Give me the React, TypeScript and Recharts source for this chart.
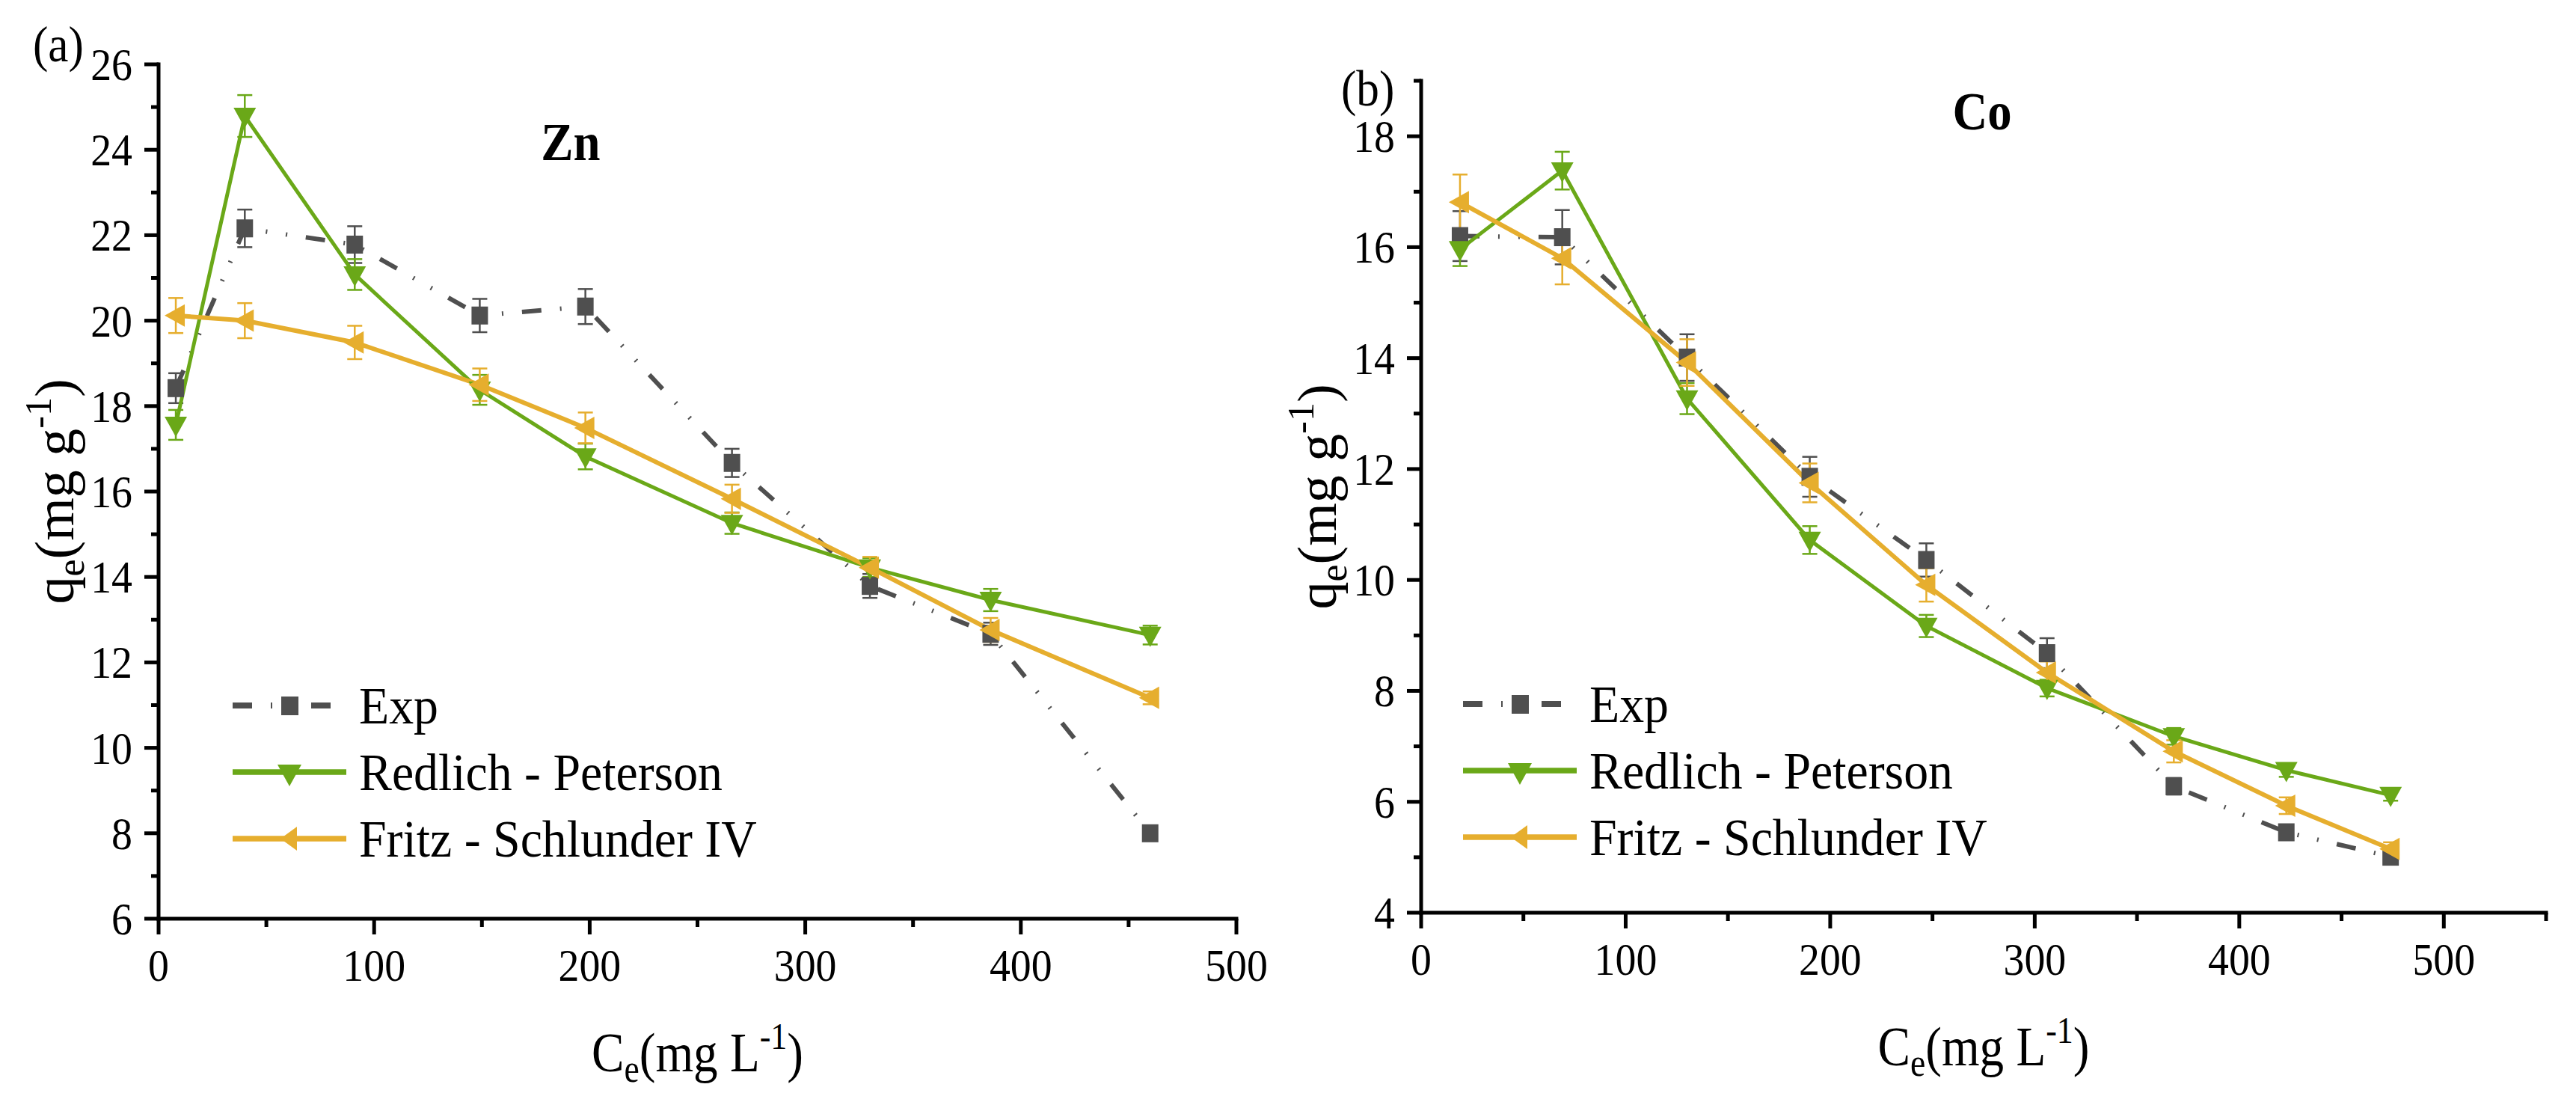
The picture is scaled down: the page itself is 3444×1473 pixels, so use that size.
import React from 'react';
import { LineChart, Line, XAxis, YAxis, ErrorBar, Legend } from 'recharts';

// ---- data ----
const znX = [8, 40, 91, 149, 198, 266, 330, 386, 460];
const znExp = [18.42, 22.16, 21.78, 20.12, 20.33, 16.67, 13.79, 12.67, 8.0];
const znExpErr = [0.35, 0.44, 0.43, 0.39, 0.41, 0.33, 0.28, 0.26, 0.1];
const znRP = [17.56, 24.79, 21.08, 18.38, 16.82, 15.26, 14.22, 13.46, 12.64];
const znRPErr = [0.35, 0.49, 0.36, 0.35, 0.3, 0.25, 0.22, 0.26, 0.22];
const znFS = [20.12, 20.0, 19.49, 18.5, 17.49, 15.83, 14.22, 12.76, 11.17];
const znFSErr = [0.41, 0.41, 0.39, 0.38, 0.36, 0.33, 0.25, 0.28, 0.15];

const coX = [19, 69, 130, 190, 247, 306, 368, 423, 474];
const coExp = [16.2, 16.18, 14.01, 11.86, 10.36, 8.68, 6.28, 5.45, 5.01];
const coExpErr = [0.45, 0.49, 0.42, 0.36, 0.3, 0.27, 0.15, 0.1, 0.1];
const coRP = [15.96, 17.38, 13.27, 10.72, 9.17, 8.05, 7.18, 6.57, 6.12];
const coRPErr = [0.3, 0.34, 0.28, 0.25, 0.2, 0.15, 0.15, 0.12, 0.1];
const coFS = [16.81, 15.8, 13.92, 11.75, 9.91, 8.33, 6.91, 5.93, 5.15];
const coFSErr = [0.5, 0.47, 0.42, 0.35, 0.3, 0.2, 0.2, 0.15, 0.12];

const znYTicks = [6, 7, 8, 9, 10, 11, 12, 13, 14, 15, 16, 17, 18, 19, 20, 21, 22, 23, 24, 25, 26];
const coYTicks = [4, 5, 6, 7, 8, 9, 10, 11, 12, 13, 14, 15, 16, 17, 18, 19];
const znXTicks = [0, 50, 100, 150, 200, 250, 300, 350, 400, 450, 500];
const coXTicks = [0, 50, 100, 150, 200, 250, 300, 350, 400, 450, 500, 550];

const seriesNames = ['Exp', 'Redlich - Peterson', 'Fritz - Schlunder IV'];

const GRAY = '#4f4f4f';
const GREEN = '#6aa818';
const ORANGE = '#e6ae2e';
const FONT = "'Liberation Serif', 'Times New Roman', serif";
const W = 1722;
const H = 1473;

const build = (xs: number[], e: number[], ee: number[], r: number[], re: number[], f: number[], fe: number[]) =>
  xs.map((x, i) => ({ x, exp: e[i], expErr: ee[i], rp: r[i], rpErr: re[i], fs: f[i], fsErr: fe[i] }));

const znData = build(znX, znExp, znExpErr, znRP, znRPErr, znFS, znFSErr);
const coData = build(coX, coExp, coExpErr, coRP, coRPErr, coFS, coFSErr);

// horizontally squeezed text like the original export
const SText = ({ x, y, size, sx = 0.9, anchor = 'start', weight = 'normal', children }: any) => (
  <text
    transform={`translate(${x} ${y}) scale(${sx} 1)`}
    style={{ fontFamily: FONT, fontSize: size, fontWeight: weight }}
    textAnchor={anchor}
    fill="#000"
  >
    {children}
  </text>
);

const YTick = ({ x, y, payload }: any) => {
  const major = payload.value % 2 === 0;
  return (
    <g>
      <line x1={x - (major ? 19 : 10)} x2={x} y1={y} y2={y} stroke="#000" strokeWidth={5} />
      {major && (
        <SText x={x - 35} y={y + 21} size={62} anchor="end">
          {payload.value}
        </SText>
      )}
    </g>
  );
};

const XTick = ({ x, y, payload }: any) => {
  const major = payload.value % 100 === 0;
  return (
    <g>
      <line x1={x} x2={x} y1={y} y2={y + (major ? 21 : 11)} stroke="#000" strokeWidth={5} />
      {major && (
        <SText x={x} y={y + 83} size={62} anchor="middle">
          {payload.value}
        </SText>
      )}
    </g>
  );
};

const square = (p: any) =>
  p.cx == null ? <g key={`s${p.index}`} /> : (
    <rect key={`s${p.index}`} x={p.cx - 11} y={p.cy - 12} width={22} height={24} fill={GRAY} />
  );

const triDown = (p: any) =>
  p.cx == null ? <g key={`t${p.index}`} /> : (
    <polygon
      key={`t${p.index}`}
      points={`${p.cx - 15},${p.cy - 11} ${p.cx + 15},${p.cy - 11} ${p.cx},${p.cy + 16}`}
      fill={GREEN}
    />
  );

const triLeft = (p: any) =>
  p.cx == null ? <g key={`l${p.index}`} /> : (
    <polygon
      key={`l${p.index}`}
      points={`${p.cx - 15},${p.cy} ${p.cx + 12},${p.cy - 15} ${p.cx + 12},${p.cy + 15}`}
      fill={ORANGE}
    />
  );

const LegendBox = () => {
  const rows = [53, 142, 231];
  return (
    <svg width={900} height={280} style={{ overflow: 'visible', display: 'block' }}>
      <line x1={11} x2={161} y1={rows[0]} y2={rows[0]} stroke={GRAY} strokeWidth={8} strokeDasharray="26 25 2 25 2 25" />
      <rect x={76} y={rows[0] - 12} width={23} height={25} fill={GRAY} />
      <line x1={11} x2={163} y1={rows[1]} y2={rows[1]} stroke={GREEN} strokeWidth={7.5} />
      <polygon points={`${71},${rows[1] - 10} ${103},${rows[1] - 10} ${87},${rows[1] + 19}`} fill={GREEN} />
      <line x1={11} x2={163} y1={rows[2]} y2={rows[2]} stroke={ORANGE} strokeWidth={7.5} />
      <polygon points={`${75},${rows[2]} ${97},${rows[2] - 16} ${97},${rows[2] + 16}`} fill={ORANGE} />
      {seriesNames.map((n, i) => (
        <SText key={n} x={180} y={rows[i] + 24} size={70} sx={0.94}>
          {n}
        </SText>
      ))}
    </svg>
  );
};

const Panel = ({ data, xTicks, xMax, yTicks, margin, legendPos, letter, metal, metalPos, letterPos }: any) => {
  const plotL = margin.left + 150;
  const plotR = W - margin.right;
  const plotT = margin.top;
  const plotB = H - margin.bottom - 100;
  const cx = (plotL + plotR) / 2;
  const cy = (plotT + plotB) / 2;
  return (
    <div style={{ position: 'relative', width: W, height: H }}>
      <LineChart width={W} height={H} data={data} margin={margin}>
        <XAxis
          dataKey="x"
          type="number"
          domain={[0, xMax]}
          ticks={xTicks}
          interval={0}
          height={100}
          tickSize={0}
          tickMargin={0}
          tickLine={false}
          tick={<XTick />}
          axisLine={{ stroke: '#000', strokeWidth: 5, strokeLinecap: 'square' }}
        />
        <YAxis
          type="number"
          domain={[yTicks[0], yTicks[yTicks.length - 1]]}
          ticks={yTicks}
          interval={0}
          width={150}
          tickSize={0}
          tickMargin={0}
          tickLine={false}
          tick={<YTick />}
          axisLine={{ stroke: '#000', strokeWidth: 5, strokeLinecap: 'square' }}
        />
        <Legend
          layout="vertical"
          align="center"
          verticalAlign="middle"
          content={() => <LegendBox />}
          wrapperStyle={{ left: legendPos[0], top: legendPos[1], width: 900, height: 280 }}
        />
        <Line
          dataKey="exp"
          name={seriesNames[0]}
          stroke={GRAY}
          strokeWidth={6}
          strokeDasharray="26 25 2 25 2 25"
          dot={square}
          activeDot={false}
          isAnimationActive={false}
        >
          <ErrorBar dataKey="expErr" width={10} strokeWidth={2.5} stroke={GRAY} direction="y" />
        </Line>
        <Line
          dataKey="rp"
          name={seriesNames[1]}
          stroke={GREEN}
          strokeWidth={5}
          dot={triDown}
          activeDot={false}
          isAnimationActive={false}
        >
          <ErrorBar dataKey="rpErr" width={10} strokeWidth={2.5} stroke={GREEN} direction="y" />
        </Line>
        <Line
          dataKey="fs"
          name={seriesNames[2]}
          stroke={ORANGE}
          strokeWidth={6}
          dot={triLeft}
          activeDot={false}
          isAnimationActive={false}
        >
          <ErrorBar dataKey="fsErr" width={10} strokeWidth={2.5} stroke={ORANGE} direction="y" />
        </Line>
      </LineChart>
      <svg
        width={W}
        height={H}
        style={{ position: 'absolute', left: 0, top: 0, pointerEvents: 'none', overflow: 'visible' }}
      >
        <SText x={letterPos[0]} y={letterPos[1]} size={68} sx={0.9}>
          {letter}
        </SText>
        <SText x={metalPos[0]} y={metalPos[1]} size={72} sx={0.9} anchor="middle" weight="bold">
          {metal}
        </SText>
        <SText x={cx} y={plotB + 204} size={74} sx={0.88} anchor="middle">
          C<tspan fontSize={52} dy={14}>e</tspan>
          <tspan dy={-14}>(mg L</tspan>
          <tspan fontSize={50} dy={-30}>-1</tspan>
          <tspan dy={30}>)</tspan>
        </SText>
        <text
          transform={`translate(${plotL - 114} ${cy}) rotate(-90)`}
          style={{ fontFamily: FONT, fontSize: 74 }}
          textAnchor="middle"
          fill="#000"
        >
          q<tspan fontSize={52} dy={14}>e</tspan>
          <tspan dy={-14}>(mg g</tspan>
          <tspan fontSize={50} dy={-30}>-1</tspan>
          <tspan dy={30}>)</tspan>
        </text>
      </svg>
    </div>
  );
}

export default function App() {
  return (
    <div
      style={{
        position: 'absolute',
        left: 0,
        top: 0,
        width: 3444,
        height: 1473,
        background: '#fff',
        display: 'flex',
        fontFamily: FONT,
      }}
    >
      <Panel
        data={znData}
        xTicks={znXTicks}
        xMax={500}
        yTicks={znYTicks}
        margin={{ top: 86, right: 69, bottom: 145, left: 62 }}
        legendPos={[300, 890]}
        letter="(a)"
        letterPos={[44, 82]}
        metal="Zn"
        metalPos={[763, 214]}
      />
      <Panel
        data={coData}
        xTicks={coXTicks}
        xMax={550}
        yTicks={coYTicks}
        margin={{ top: 108, right: 40, bottom: 153, left: 28 }}
        legendPos={[223, 888]}
        letter="(b)"
        letterPos={[71, 141]}
        metal="Co"
        metalPos={[928, 173]}
      />
    </div>
  );
}
